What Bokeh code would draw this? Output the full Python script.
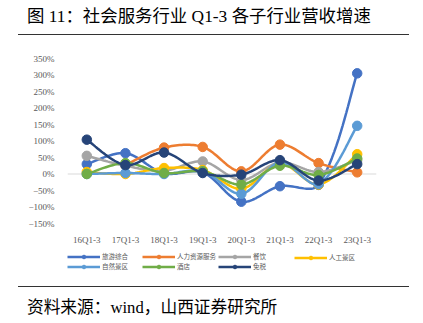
import math
from bokeh.plotting import figure
from bokeh.layouts import column
from bokeh.models import (ColumnDataSource, Span, Legend, LegendItem, FixedTicker, Div)
from bokeh.embed import file_html
from bokeh.resources import INLINE

NaN = float("nan")

# ---------------- data ----------------
categories = ["16Q1-3", "17Q1-3", "18Q1-3", "19Q1-3", "20Q1-3", "21Q1-3", "22Q1-3", "23Q1-3"]
series_names = ["旅游综合", "人力资源服务", "餐饮", "人工景区", "自然景区", "酒店", "免税"]
tourism = [30, 63, 2, 5, -84, -37, -33, 305]
hr_service = [NaN, 27, 80, 82, 8, 89, 33, 5]
catering = [55, 25, 10, 38, -18, 35, 6, 42]
artificial_scenic = [6, 0, 18, 12, -45, 32, -32, 60]
natural_scenic = [0, 3, 0, 8, -60, 35, -30, 146]
hotel = [0, 33, 3, 8, -32, 25, -3, 47]
duty_free = [104, 27, 65, 3, -2, 42, -20, 30]
series_values = [tourism, hr_service, catering, artificial_scenic, natural_scenic, hotel, duty_free]
colors = ["#4472C4", "#ED7D31", "#A5A5A5", "#FFC000", "#5B9BD5", "#70AD47", "#264478"]
y_ticks = [-150, -100, -50, 0, 50, 100, 150, 200, 250, 300, 350]
y_tick_labels = ["−150%", "−100%", "−50%", "0%", "50%", "100%", "150%", "200%", "250%", "300%", "350%"]

title_text = "图 11：社会服务行业 Q1-3 各子行业营收增速"
source_text = "资料来源：wind，山西证券研究所"

# ---------------- layout ----------------
W = 423
HEAD_H, MAIN_H, LEG_H, FOOT_H = 40, 207, 39, 37
BL, BR, BT, BB = 67, 40, 18, 23
X0, X1 = -0.5, len(categories) - 0.5
Y0, Y1 = -150, 350
px_x = (W - BL - BR) / (X1 - X0)
px_y = (MAIN_H - BT - BB) / (Y1 - Y0)
FONT_CSS = "'Liberation Serif', 'Noto Sans CJK SC', serif"
LEG_BL = 60
legend_columns = [[0, 4], [1, 5], [2, 6], [3]]
legend_col_x = [0, 75, 151, 227]


def smooth(xs, ys, n=20, t=1.0 / 3.0):
    """Excel-like smoothed Bezier path through the valid points."""
    out_x, out_y = [], []
    runs, cur = [], []
    for x, y in zip(xs, ys):
        if y is None or (isinstance(y, float) and math.isnan(y)):
            if cur:
                runs.append(cur)
                cur = []
        else:
            cur.append((x, y))
    if cur:
        runs.append(cur)

    def L(a, b):
        return math.hypot((b[0] - a[0]) * px_x, (b[1] - a[1]) * px_y)

    for r in runs:
        if out_x:
            out_x.append(NaN)
            out_y.append(NaN)
        m = len(r)
        if m == 1:
            out_x.append(r[0][0]); out_y.append(r[0][1])
            continue
        for i in range(m - 1):
            p0 = r[i - 1] if i > 0 else r[i]
            p1 = r[i]
            p2 = r[i + 1]
            p3 = r[i + 2] if i + 2 < m else r[i + 1]
            l01, l12, l23 = L(p0, p1), L(p1, p2), L(p2, p3)
            s1 = l12 / (l01 + l12) if (l01 + l12) > 0 and i > 0 else 0.5
            s2 = l12 / (l12 + l23) if (l12 + l23) > 0 and i + 2 < m else 0.5
            c1 = (p1[0] + (p2[0] - p0[0]) * s1 * t, p1[1] + (p2[1] - p0[1]) * s1 * t)
            c2 = (p2[0] - (p3[0] - p1[0]) * s2 * t, p2[1] - (p3[1] - p1[1]) * s2 * t)
            for k in range(n + (1 if i == m - 2 else 0)):
                u = k / n
                a = (1 - u) ** 3
                b = 3 * (1 - u) ** 2 * u
                c = 3 * (1 - u) * u ** 2
                d = u ** 3
                out_x.append(a * p1[0] + b * c1[0] + c * c2[0] + d * p2[0])
                out_y.append(a * p1[1] + b * c1[1] + c * c2[1] + d * p2[1])
    return out_x, out_y


head = Div(width=W, height=HEAD_H, margin=0, text=(
    f'<div style="position:relative;width:{W}px;height:{HEAD_H}px;">'
    f'<div style="position:absolute;left:27px;top:6px;font-size:17.4px;line-height:20px;'
    f'font-family:{FONT_CSS};color:#000;white-space:nowrap;">{title_text}</div>'
    f'<div style="position:absolute;left:18px;top:34px;width:391px;height:1px;background:#333;"></div>'
    f'</div>'))
foot = Div(width=W, height=FOOT_H, margin=0, text=(
    f'<div style="position:relative;width:{W}px;height:{FOOT_H}px;">'
    f'<div style="position:absolute;left:18px;top:0px;width:391px;height:1px;background:#333;"></div>'
    f'<div style="position:absolute;left:27px;top:12px;font-size:16.7px;line-height:20px;'
    f'font-family:{FONT_CSS};color:#000;white-space:nowrap;">{source_text}</div>'
    f'</div>'))

# ---------------- main chart ----------------
p = figure(width=W, height=MAIN_H, output_backend="svg", toolbar_location=None,
           x_range=(X0, X1), y_range=(Y0, Y1), margin=0,
           min_border_left=BL, min_border_right=BR, min_border_top=BT, min_border_bottom=BB)
p.outline_line_color = None
p.xgrid.visible = False
p.ygrid.visible = False

p.yaxis.ticker = FixedTicker(ticks=y_ticks)
p.yaxis.major_label_overrides = {k: v for k, v in zip(y_ticks, y_tick_labels)}
p.xaxis.ticker = FixedTicker(ticks=list(range(len(categories))))
p.xaxis.major_label_overrides = {i: c for i, c in enumerate(categories)}
for ax in (p.xaxis, p.yaxis):
    ax.axis_line_color = None
    ax.major_tick_line_color = None
    ax.minor_tick_line_color = None
    ax.major_label_text_font = "Liberation Serif"
    ax.major_label_text_font_size = "9px"
    ax.major_label_text_color = "#595959"
p.yaxis.major_label_standoff = 7
p.xaxis.major_label_standoff = 5

p.add_layout(Span(location=0, dimension="width", line_color="#D9D9D9", line_width=1, level="underlay"))

xs = list(range(len(categories)))
for name, vals, col in zip(series_names, series_values, colors):
    sx, sy = smooth(xs, vals)
    p.line(sx, sy, line_color=col, line_width=2.5)
    src = ColumnDataSource(dict(x=xs, y=vals))
    p.scatter("x", "y", source=src, size=9.5, fill_color=col, line_color=col, marker="circle")

# ---------------- legend strip ----------------
# same series drawn again, outside this strip's visible y-range, so only the legend keys show
lg = figure(width=W, height=LEG_H, output_backend="svg", toolbar_location=None,
            x_range=(X0, X1), y_range=(1000, 1001), x_axis_type=None, y_axis_type=None, margin=0,
            min_border_left=LEG_BL, min_border_right=W - LEG_BL - (W - BL - BR),
            min_border_top=0, min_border_bottom=0)
lg.outline_line_color = None
lg.xgrid.visible = False
lg.ygrid.visible = False
legend_items = []
for name, vals, col in zip(series_names, series_values, colors):
    src = ColumnDataSource(dict(x=xs, y=vals))
    lr = lg.line("x", "y", source=src, line_color=col, line_width=2.5)
    sr = lg.scatter("x", "y", source=src, size=7, fill_color=col, line_color=col, marker="circle")
    legend_items.append(LegendItem(label=name, renderers=[lr, sr]))

for idxs, lx in zip(legend_columns, legend_col_x):
    lgd = Legend(items=[legend_items[i] for i in idxs], orientation="vertical",
                 location=(lx, 15 + 9 * (2 - len(idxs))),
                 glyph_width=33, glyph_height=9, label_height=9, label_standoff=2,
                 label_text_font_size="6.5px", label_text_color="#595959",
                 label_text_font="Noto Sans CJK SC",
                 spacing=0, padding=0, margin=0,
                 border_line_color=None, background_fill_alpha=0)
    lg.add_layout(lgd)

layout = column(head, p, lg, foot, spacing=0, margin=0)
open("out.html", "w").write(file_html(layout, INLINE))
